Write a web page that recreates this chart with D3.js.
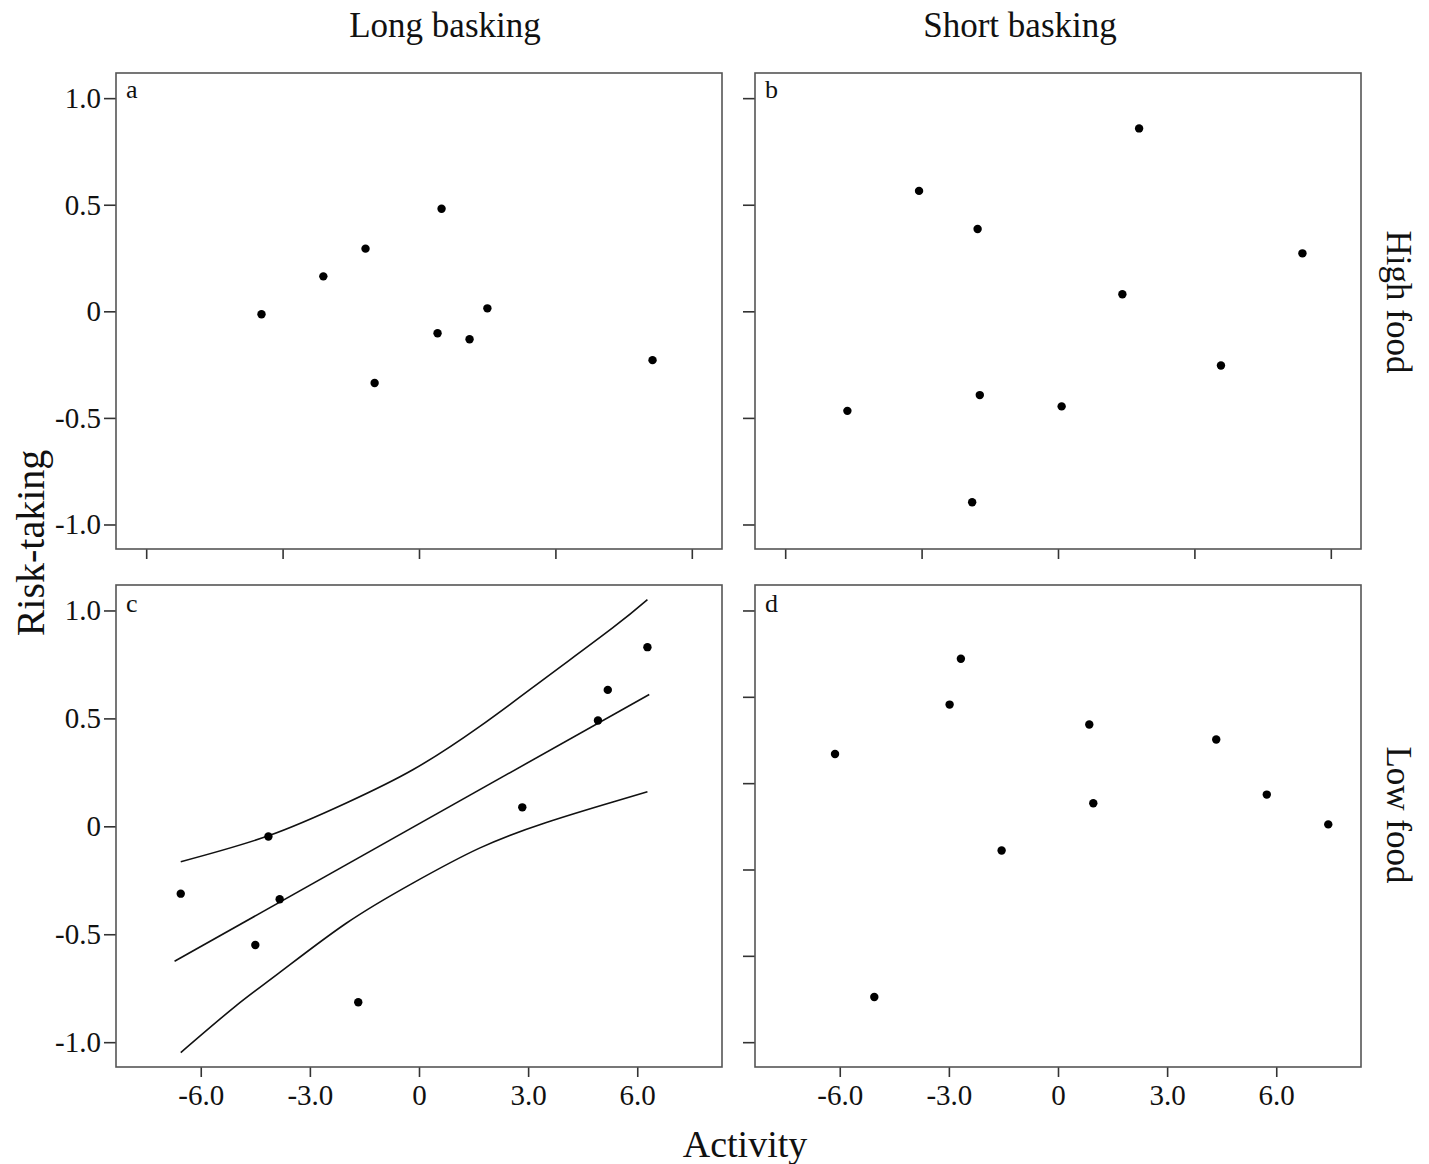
<!DOCTYPE html>
<html>
<head>
<meta charset="utf-8">
<script src="https://cdn.jsdelivr.net/npm/d3@7"></script>
<style>
  body { margin: 0; background: #fff; }
  text { font-family: "Liberation Serif", "Times New Roman", serif; fill: #111; }
</style>
</head>
<body>
<div id="plot"></div>
<script>
// Values (x = Activity, y = Risk-taking)
const colLabels = ["Long basking", "Short basking"];
const rowLabels = ["High food", "Low food"];
const panelLetters = ["a", "b", "c", "d"];

const xTicksTop = [-7.5, -3.75, 0, 3.75, 7.5];
const xTicksBottom = [-6, -3, 0, 3, 6];
const yTicks = [1.0, 0.5, 0, -0.5, -1.0];
const yTicksD = [1.0, 0.6, 0.2, -0.2, -0.6, -1.0];

const pointsA = [
  [-4.33, -0.014], [-2.63, 0.164], [-1.47, 0.294], [0.62, 0.481], [-1.22, -0.336],
  [0.51, -0.103], [1.39, -0.131], [1.88, 0.014], [6.42, -0.229]
];
const pointsB = [
  [-5.79, -0.467], [-3.82, 0.565], [-2.21, 0.386], [2.23, 0.858], [6.72, 0.272],
  [1.77, 0.08], [4.48, -0.254], [-2.15, -0.393], [0.10, -0.446], [-2.36, -0.896]
];
const pointsC = [
  [-6.55, -0.312], [-4.14, -0.047], [-3.83, -0.338], [-4.50, -0.550], [-1.67, -0.815],
  [2.84, 0.088], [4.92, 0.490], [5.19, 0.632], [6.28, 0.83]
];
const pointsD = [
  [-6.13, 0.335], [-5.05, -0.791], [-2.98, 0.564], [-2.67, 0.776], [-1.55, -0.112],
  [0.86, 0.472], [0.97, 0.107], [4.35, 0.402], [5.74, 0.147], [7.43, 0.009]
];

// fitted line and confidence band in panel c
const fitC = [[-6.72, -0.625], [6.33, 0.611]];
const upperC = [
  [-6.55, -0.164], [-4.14, -0.044], [-2.0, 0.108], [-0.17, 0.262],
  [1.663, 0.462], [3.50, 0.690], [5.33, 0.920], [6.28, 1.05]
];
const lowerC = [
  [-6.55, -1.048], [-5.05, -0.834], [-3.835, -0.678], [-2.0, -0.449],
  [-0.17, -0.263], [1.663, -0.101], [3.50, 0.018], [5.33, 0.113], [6.28, 0.160]
];

const xDomain = [-8.33, 8.33];
const yDomain = [-1.115, 1.118];

const width = 1429;
const height = 1164;

const svg = d3.select("#plot")
  .append("svg")
  .attr("width", width)
  .attr("height", height);

// panel layout
const panels = [
  { letter: panelLetters[0], x: 116, y: 73, w: 606, h: 476, points: pointsA, xTicks: xTicksTop, xLabels: false, yTicks: yTicks, yLabels: true },
  { letter: panelLetters[1], x: 755, y: 73, w: 606, h: 476, points: pointsB, xTicks: xTicksTop, xLabels: false, yTicks: yTicks, yLabels: false },
  { letter: panelLetters[2], x: 116, y: 585, w: 606, h: 482, points: pointsC, xTicks: xTicksBottom, xLabels: true, yTicks: yTicks, yLabels: true, fit: true },
  { letter: panelLetters[3], x: 755, y: 585, w: 606, h: 482, points: pointsD, xTicks: xTicksBottom, xLabels: true, yTicks: yTicksD, yLabels: false }
];

const fmt = d => (d === 0 ? "0" : d.toFixed(1));

panels.forEach(p => {
  const g = svg.append("g").attr("transform", `translate(${p.x},${p.y})`);
  const x = d3.scaleLinear().domain(xDomain).range([0, p.w]);
  const y = d3.scaleLinear().domain(yDomain).range([p.h, 0]);

  // axes
  const xAxis = g.append("g")
    .attr("transform", `translate(0,${p.h})`)
    .call(d3.axisBottom(x).tickValues(p.xTicks).tickSize(10).tickPadding(7)
      .tickFormat(p.xLabels ? fmt : ""));
  const yAxis = g.append("g")
    .call(d3.axisLeft(y).tickValues(p.yTicks).tickSize(12).tickPadding(3)
      .tickFormat(p.yLabels ? fmt : ""));

  [xAxis, yAxis].forEach(a => {
    a.select(".domain").remove();
    a.selectAll("line").attr("stroke", "#333").attr("stroke-width", 1.6);
    a.selectAll("text").style("font-size", "29px").attr("fill", "#111");
  });

  // frame
  g.append("rect")
    .attr("width", p.w)
    .attr("height", p.h)
    .attr("fill", "none")
    .attr("stroke", "#555")
    .attr("stroke-width", 1.6);

  // panel letter
  g.append("text")
    .attr("x", 10)
    .attr("y", p.y === 73 ? 25 : 27)
    .style("font-size", "26px")
    .text(p.letter);

  // regression line + band
  if (p.fit) {
    const line = d3.line().x(d => x(d[0])).y(d => y(d[1]));
    const curve = d3.line().curve(d3.curveNatural).x(d => x(d[0])).y(d => y(d[1]));
    g.append("path").attr("d", line(fitC)).attr("fill", "none").attr("stroke", "#111").attr("stroke-width", 1.6);
    g.append("path").attr("d", curve(upperC)).attr("fill", "none").attr("stroke", "#111").attr("stroke-width", 1.6);
    g.append("path").attr("d", curve(lowerC)).attr("fill", "none").attr("stroke", "#111").attr("stroke-width", 1.6);
  }

  // points
  g.selectAll(".dot")
    .data(p.points)
    .enter()
    .append("circle")
    .attr("class", "dot")
    .attr("cx", d => x(d[0]))
    .attr("cy", d => y(d[1]))
    .attr("r", 4.2)
    .attr("fill", "#000");
});

// column titles
svg.selectAll(".col-label")
  .data(colLabels)
  .enter()
  .append("text")
  .attr("class", "col-label")
  .attr("x", (d, i) => (i === 0 ? 445 : 1020))
  .attr("y", 37)
  .style("text-anchor", "middle")
  .style("font-size", "35px")
  .text(d => d);

// row titles (rotated, right side)
svg.selectAll(".row-label")
  .data(rowLabels)
  .enter()
  .append("text")
  .attr("class", "row-label")
  .attr("transform", (d, i) => `translate(1387,${i === 0 ? 302 : 815}) rotate(90)`)
  .style("text-anchor", "middle")
  .style("font-size", "35px")
  .text(d => d);

// axis titles
svg.append("text")
  .attr("transform", "translate(44,543) rotate(-90)")
  .style("text-anchor", "middle")
  .style("font-size", "40px")
  .text("Risk-taking");

svg.append("text")
  .attr("x", 745)
  .attr("y", 1157)
  .style("text-anchor", "middle")
  .style("font-size", "38px")
  .text("Activity");
</script>
</body>
</html>
